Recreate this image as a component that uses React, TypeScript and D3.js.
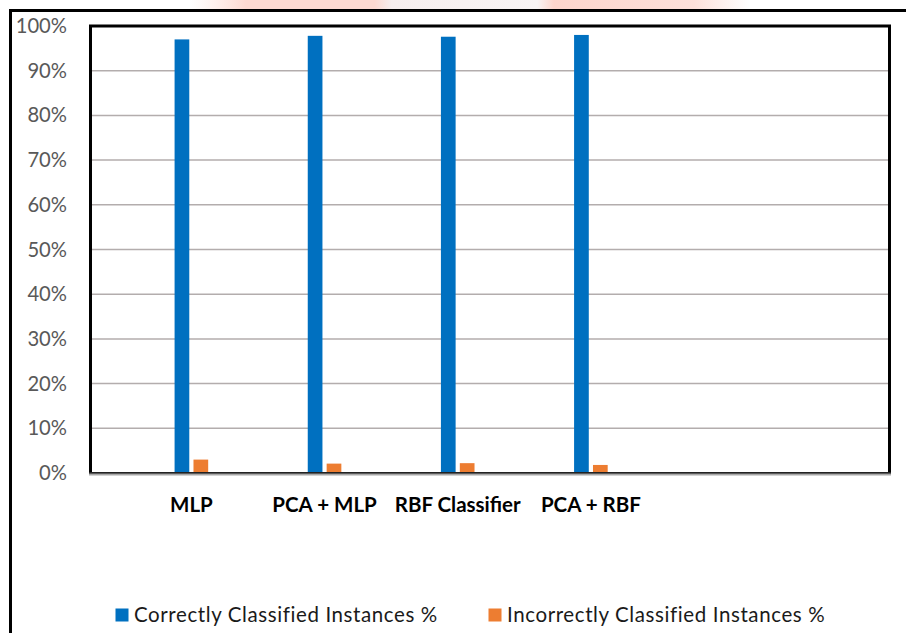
import React from "react";
import * as d3 from "d3";

const categories = ["MLP", "PCA + MLP", "RBF Classifier", "PCA + RBF", "", " "];
const correctValues = [0.970, 0.978, 0.976, 0.980];
const incorrectValues = [0.030, 0.021, 0.022, 0.018];
const seriesNames = ["Correctly Classified Instances %", "Incorrectly Classified Instances %"];
const seriesColors = ["#0070C0", "#ED7D31"];
const yTicks = [0, 0.1, 0.2, 0.3, 0.4, 0.5, 0.6, 0.7, 0.8, 0.9, 1.0];

const W = 906;
const H = 633;
const plot = { left: 90.5, right: 889.5, top: 26, bottom: 473 };

export default function App() {
  const y = d3.scaleLinear().domain([0, 1]).range([plot.bottom, plot.top]);
  const x = d3.scaleBand<string>().domain(categories).range([plot.left, plot.right]);
  const bw = x.bandwidth();
  const shift = 34.3;
  const barW = 14.7;
  const gap = 4.2;
  const center = (c: string) => (x(c) as number) + bw / 2 + shift;
  const fmt = d3.format(".0%");
  const realCats = categories.slice(0, correctValues.length);

  return (
    <svg
      width={W}
      height={H}
      style={{ position: "absolute", left: 0, top: 0, background: "#fff" }}
      fontFamily="Lato, 'Open Sans', sans-serif"
    >
      <defs>
        <linearGradient id="wm" x1="0" x2="1" y1="0" y2="0">
          <stop offset="0" stopColor="#fde3dc" stopOpacity={0} />
          <stop offset="0.1" stopColor="#fdd9d1" />
          <stop offset="0.33" stopColor="#fdd9d1" />
          <stop offset="0.36" stopColor="#f6eeee" />
          <stop offset="0.62" stopColor="#f8f4f4" />
          <stop offset="0.65" stopColor="#fdd5cc" />
          <stop offset="0.9" stopColor="#fde0da" />
          <stop offset="1" stopColor="#fde3dc" stopOpacity={0} />
        </linearGradient>
      </defs>
      <rect x={0} y={0} width={W} height={H} fill="#fff" />
      {/* faint watermark band */}
      <rect x={190} y={0} width={560} height={9} fill="url(#wm)" />

      {/* outer frame */}
      <line x1={10.5} x2={W + 5} y1={10.5} y2={10.5} stroke="#000" strokeWidth={3} />
      <line x1={10.5} x2={10.5} y1={9} y2={H + 5} stroke="#000" strokeWidth={3} />

      {/* gridlines */}
      {yTicks.slice(1).map((t) => (
        <line
          key={t}
          x1={plot.left}
          x2={plot.right}
          y1={y(t)}
          y2={y(t)}
          stroke="#b3adad"
          strokeWidth={1.5}
        />
      ))}

      {/* bars */}
      {realCats.map((c, i) => (
        <g key={c}>
          <rect
            x={center(c) - gap / 2 - barW}
            y={y(correctValues[i])}
            width={barW}
            height={y(0) - y(correctValues[i])}
            fill={seriesColors[0]}
          />
          <rect
            x={center(c) + gap / 2}
            y={y(incorrectValues[i])}
            width={barW}
            height={y(0) - y(incorrectValues[i])}
            fill={seriesColors[1]}
          />
        </g>
      ))}

      {/* plot border */}
      <path
        d={`M${plot.left},${plot.bottom} V${plot.top} H${plot.right} V${plot.bottom}`}
        fill="none"
        stroke="#000"
        strokeWidth={3}
      />
      <line x1={plot.left - 1.5} x2={plot.right + 1.5} y1={plot.bottom - 0.2} y2={plot.bottom - 0.2} stroke="#222" strokeWidth={1.8} />
      <line x1={plot.left - 1.5} x2={plot.right + 1.5} y1={plot.bottom + 1.8} y2={plot.bottom + 1.8} stroke="#a8a8a8" strokeWidth={1.5} />

      {/* y tick labels */}
      {yTicks.map((t) => (
        <text
          key={t}
          x={67}
          y={y(t)}
          dy="0.35em"
          textAnchor="end"
          fontSize={20.2}
          fill="#595959"
        >
          {fmt(t)}
        </text>
      ))}

      {/* x labels */}
      {realCats.map((c) => (
        <text
          key={c}
          x={center(c)}
          y={511.5}
          textAnchor="middle"
          fontSize={20.5}
          fontWeight="bold"
          fill="#000"
        >
          {c}
        </text>
      ))}

      {/* legend */}
      {seriesNames.map((s, i) => {
        const lx = [115.5, 488.5][i];
        return (
          <g key={s}>
            <rect x={lx} y={608.5} width={13} height={13} fill={seriesColors[i]} />
            <text x={lx + 18.5} y={621.5} fontSize={20.5} letterSpacing={0.6} fill="#1a1a1a">
              {s}
            </text>
          </g>
        );
      })}
    </svg>
  );
}
